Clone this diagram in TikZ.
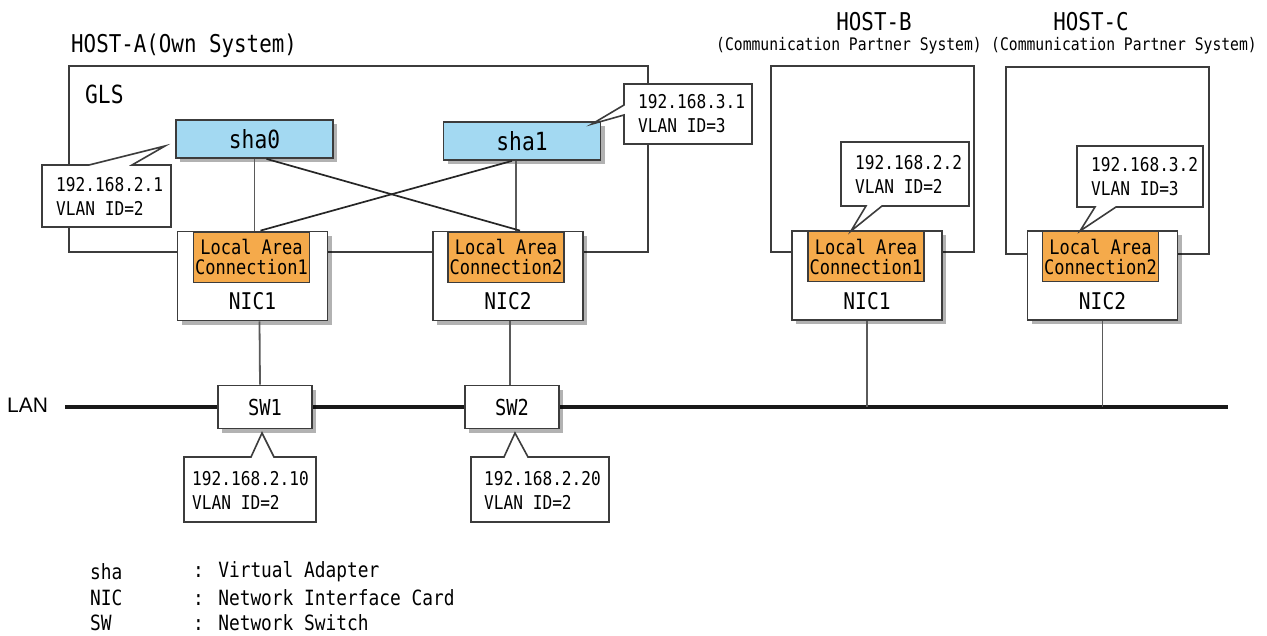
\documentclass[tikz,border=0pt]{standalone}
\usepackage{fontspec}
\newfontfamily\gm[FakeStretch=0.85]{DejaVu Sans Mono}
\newfontfamily\lansf{Liberation Sans}
\usetikzlibrary{shadows,calc}
\definecolor{shablue}{HTML}{A3D9F2}
\definecolor{lacorange}{HTML}{F5AA4B}
\definecolor{edgec}{HTML}{3C3C3C}
\definecolor{connc}{HTML}{5A5A5A}
\begin{document}
\begin{tikzpicture}[x=1pt,y=-1pt,
  fnt/.style={font=\gm\fontsize{#1}{#1}\selectfont},
  hostbox/.style={draw=edgec, line width=1.8pt},
  shd/.style={drop shadow={shadow xshift=4pt, shadow yshift=-4pt, fill=black, opacity=0.3}},
  shabox/.style={draw=edgec, fill=shablue, line width=1.8pt, minimum width=157pt, minimum height=38pt, inner sep=0pt, shd, font=\gm\fontsize{25}{25}\selectfont},
  nicbox/.style={draw=edgec, fill=white, line width=1.8pt, minimum width=150pt, minimum height=89pt, inner sep=0pt, shd},
  lacbox/.style={draw=edgec, fill=lacorange, line width=1.3pt, minimum width=116pt, minimum height=50pt, inner sep=0pt, align=center, font=\gm\fontsize{20}{20}\selectfont},
  swbox/.style={draw=edgec, fill=white, line width=1.8pt, minimum width=94pt, minimum height=43pt, inner sep=0pt, shd, font=\gm\fontsize{22}{22}\selectfont},
  callshape/.style={draw=edgec, fill=white, line width=1.6pt, line join=miter},
  calltext/.style={anchor=west, align=left, inner sep=0pt, font=\gm\fontsize{19}{24}\selectfont},
  conn/.style={draw=connc, line width=1.8pt},
  cross/.style={draw=black!85, line width=1.7pt},
  nictext/.style={font=\gm\fontsize{23}{23}\selectfont},
  legend/.style={anchor=west, inner sep=0pt, font=\gm\fontsize{21}{21}\selectfont}
]
\useasboundingbox (0,0) rectangle (1267,635);

% host titles
\node[anchor=west, inner sep=0pt, fnt=24.5] (hostA) at (71,46) {HOST-A(Own System)};
\node[inner sep=0pt, fnt=24.5] (hostB) at (874,22) {HOST-B};
\node[inner sep=0pt, fnt=17.3] (partB) at (849,46) {(Communication Partner System)};
\node[inner sep=0pt, fnt=24.5] (hostC) at (1091,22) {HOST-C};
\node[inner sep=0pt, fnt=17.3] (partC) at (1124,46) {(Communication Partner System)};

% host boxes
\draw[hostbox] (69,66) rectangle (648,252);
\node[anchor=west, inner sep=0pt, fnt=25] (gls) at (85,94) {GLS};
\draw[hostbox] (771,66) rectangle (974,252);
\draw[hostbox] (1006,67) rectangle (1209,254);

% LAN
\coordinate (lanL) at (65,407);
\coordinate (lanR) at (1228,407);
\node[anchor=west, inner sep=0pt, font=\lansf\fontsize{21}{21}\selectfont] (lan) at (7,405) {LAN};
\draw[line width=4pt, black!90] (lanL) -- (lanR);

% virtual adapters
\node[shabox] (sha0) at (254.5,139) {sha0};
\node[shabox] (sha1) at (522,141) {sha1};

% NICs
\node[nicbox] (nic1) at (252.5,276) {};
\node[nicbox] (nic2) at (508,276) {};
\node[nicbox] (nicB) at (867,275.5) {};
\node[nicbox] (nicC) at (1102.5,275.5) {};

% connectors sha -> NIC
\draw[conn] (sha0.south) -- (sha0.south |- nic1.north);
\draw[conn] ($(sha1.south)+(-6,0)$) -- ($(nic2.north)+(8,0)$);
\draw[cross] ($(sha0.south)+(12,0)$) -- ($(nic2.north)+(12,0)$);
\draw[cross] ($(sha1.south)+(-10,0)$) -- ($(nic1.north)+(8,0)$);

\node[lacbox, anchor=north] (lac1) at ($(nic1.north)+(-1,1)$) {Local Area\\Connection1};
\node[lacbox, anchor=north] (lac2) at ($(nic2.north)+(-2,1)$) {Local Area\\Connection2};
\node[lacbox, anchor=north] (lacB) at ($(nicB.north)+(-1,1)$) {Local Area\\Connection1};
\node[lacbox, anchor=north] (lacC) at ($(nicC.north)+(-2,1)$) {Local Area\\Connection2};
\node[nictext] (n1t) at ($(nic1.south)+(0,-20)$) {NIC1};
\node[nictext] (n2t) at ($(nic2.south)+(0,-20)$) {NIC2};
\node[nictext] (nBt) at ($(nicB.south)+(0,-20)$) {NIC1};
\node[nictext] (nCt) at ($(nicC.south)+(0,-20)$) {NIC2};

% switches
\node[swbox] (sw1) at (265,407) {SW1};
\node[swbox] (sw2) at (512,407) {SW2};

\draw[conn] ($(nic1.south)+(7,0)$) -- ($(sw1.north)+(-5,0)$);
\draw[conn] ($(nic2.south)+(2,0)$) -- ($(sw2.north)+(-2,0)$);
\draw[conn] (nicB.south) -- (nicB.south |- lanL);
\draw[conn] (nicC.south) -- (nicC.south |- lanL);

% callouts
\draw[callshape] (42,165) -- (89,165) -- (165,146) -- (132,165) -- (171,165) -- (171,227) -- (42,227) -- cycle;
\node[calltext] (c21) at (56,196) {192.168.2.1\\VLAN ID=2};

\draw[callshape] (624,84) -- (752,84) -- (752,144) -- (624,144) -- (624,115) -- (592,124) -- (624,105) -- cycle;
\node[calltext] (c31) at (638,114) {192.168.3.1\\VLAN ID=3};

\draw[callshape] (841,142) -- (969,142) -- (969,206) -- (882,206) -- (851,231) -- (866,206) -- (841,206) -- cycle;
\node[calltext] (c22) at (855,174) {192.168.2.2\\VLAN ID=2};

\draw[callshape] (1077,146) -- (1203,146) -- (1203,207) -- (1116,207) -- (1080,231) -- (1095,207) -- (1077,207) -- cycle;
\node[calltext] (c32) at (1091,177) {192.168.3.2\\VLAN ID=3};

\draw[callshape] (184,457) -- (251,457) -- (262,433) -- (274,457) -- (316,457) -- (316,522) -- (184,522) -- cycle;
\node[calltext] (c210) at (192,490) {192.168.2.10\\VLAN ID=2};

\draw[callshape] (471,457) -- (504,457) -- (515,433) -- (528,457) -- (609,457) -- (609,522) -- (471,522) -- cycle;
\node[calltext] (c220) at (484,490) {192.168.2.20\\VLAN ID=2};

% legend
\node[legend] (l1) at (90,572) {sha};
\node[legend] (l1t) at (193,572) {: Virtual Adapter};
\node[legend] (l2) at (90,598) {NIC};
\node[legend] (l2t) at (193,598) {: Network Interface Card};
\node[legend] (l3) at (90,623) {SW};
\node[legend] (l3t) at (193,623) {: Network Switch};
\end{tikzpicture}
\end{document}
